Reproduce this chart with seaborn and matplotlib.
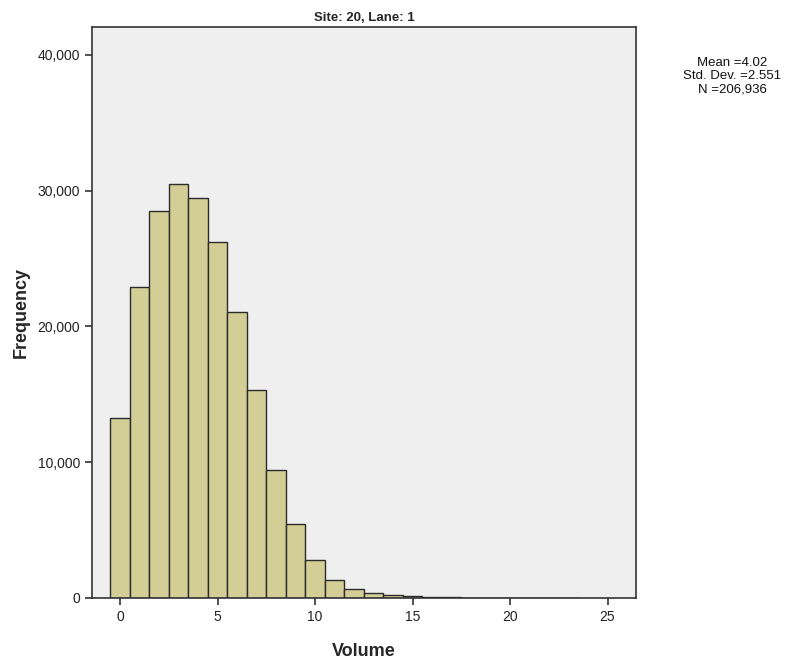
import matplotlib
matplotlib.use("Agg")
import matplotlib.pyplot as plt
import seaborn as sns
import pandas as pd
from matplotlib.ticker import FuncFormatter

volume = list(range(0, 24))
frequency = [13250, 22900, 28500, 30500, 29450, 26200, 21050, 15300, 9400, 5450,
             2800, 1300, 660, 370, 200, 110, 70, 45, 30, 20, 15, 10, 8, 5]
xticks = [0, 5, 10, 15, 20, 25]
yticks = [0, 10000, 20000, 30000, 40000]
title = "Site: 20, Lane: 1"
stats_text = "Mean =4.02\nStd. Dev. =2.551\nN =206,936"

sns.set_style("ticks")
plt.rcParams["font.family"] = ["Liberation Sans", "DejaVu Sans"]

df = pd.DataFrame({"Volume": volume, "Frequency": frequency})

fig = plt.figure(figsize=(7.94, 6.65), dpi=100)
ax = fig.add_axes([0.1159, 0.1008, 0.801 - 0.1159, 0.9594 - 0.1008])
ax.set_facecolor("#efefef")

sns.histplot(data=df, x="Volume", weights="Frequency", discrete=True,
             color="#d3cd96", edgecolor="#2b2b2b", linewidth=1.0, alpha=1.0, ax=ax)

ax.set_xlim(-1.44, 26.46)
ax.set_ylim(0, 42050)
ax.set_xticks(xticks)
ax.set_yticks(yticks)
ax.yaxis.set_major_formatter(FuncFormatter(lambda v, p: f"{int(v):,}"))
ax.tick_params(axis="both", direction="out", length=5, width=1.2, colors="#333333",
               labelsize=10, labelcolor="#222222")
for s in ax.spines.values():
    s.set_color("#333333")
    s.set_linewidth(1.2)

ax.set_xlabel("Volume", fontsize=13, fontweight="bold", labelpad=14)
ax.set_ylabel("Frequency", fontsize=13, fontweight="bold", labelpad=6)
ax.set_title(title, fontsize=9.5, fontweight="bold", pad=4)

fig.text(0.922, 0.915, stats_text, ha="center", va="top", fontsize=9.5,
         multialignment="center", linespacing=1.18, color="#111111")

fig.savefig("out.png", dpi=100, facecolor="white")
